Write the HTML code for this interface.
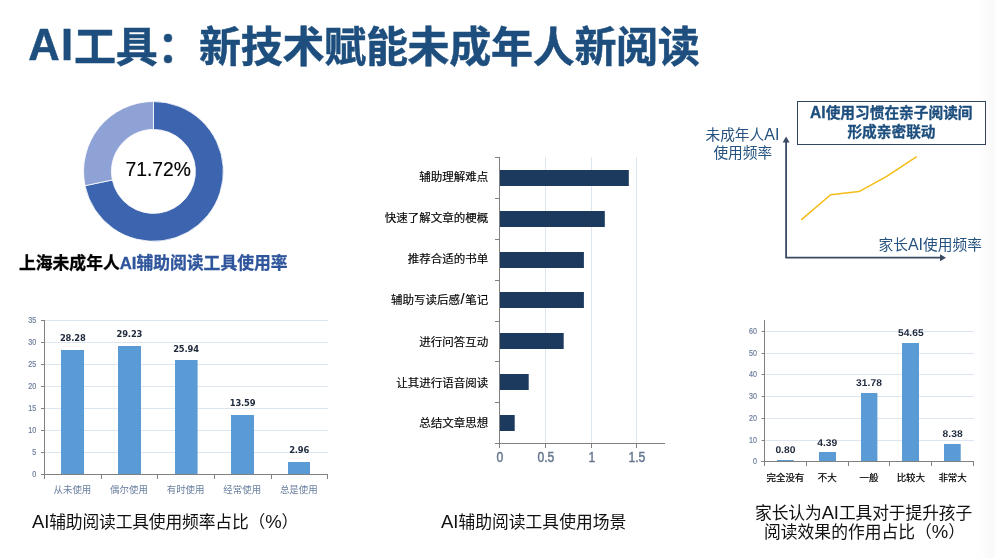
<!DOCTYPE html>
<html lang="zh-CN">
<head>
<meta charset="utf-8">
<title>AI工具：新技术赋能未成年人新阅读</title>
<style>
html,body{margin:0;padding:0;background:#fff;}
body{width:995px;height:558px;overflow:hidden;position:relative;font-family:"Liberation Sans", "Noto Sans CJK SC", sans-serif;}
.slide{position:absolute;left:0;top:0;width:995px;height:558px;background:#fff;overflow:hidden;}
.edge{position:absolute;right:0;top:0;width:20px;height:558px;background:linear-gradient(to right,#ffffff 0%,#fdfdfd 45%,#fbfbfb 55%,#fafafa 100%);}
.t{position:absolute;white-space:nowrap;margin:0;line-height:1;}
h1.t{left:0;top:0;width:995px;height:80px;font-size:42px;font-weight:bold;color:#1D4E7D;-webkit-text-stroke:0.5px #1D4E7D;}
h1.t span{position:absolute;white-space:nowrap;line-height:1;}
h1.t .la{left:28.3px;top:24px;font-size:43.5px;letter-spacing:1.2px;}
h1.t .cj{left:74px;top:27.2px;font-size:42px;letter-spacing:-0.3px;}
.la2{font-size:1.1em;line-height:0;}
.sub{-webkit-text-stroke:0.3px currentColor;left:19px;top:256.3px;font-size:16.8px;font-weight:bold;color:#000;}
.sub span{color:#2F559C;}
.cap{font-size:16.8px;color:#111;font-weight:normal;}
.c1{left:32px;top:515px;letter-spacing:-0.16px;}
.c2{left:441px;top:515px;}
.c3{left:755px;top:505.8px;letter-spacing:-0.12px;}
.c4{left:764px;top:525.2px;}
svg{position:absolute;left:0;top:0;}
svg text{font-family:"Liberation Sans", "Noto Sans CJK SC", sans-serif;}
</style>
</head>
<body>
<div class="slide">
<div class="edge"></div>
<h1 class="t"><span class="la">AI</span><span class="cj">工具：新技术赋能未成年人新阅读</span></h1>
<svg width="995" height="558" viewBox="0 0 995 558" role="img" aria-label="图表">
<g id="donut">
<path d="M153.45 101.5 A69.9 69.9 0 1 1 85.03 185.7 L112.34 179.99 A42 42 0 1 0 153.45 129.4 Z" fill="#3C64AF" stroke="#fff" stroke-width="0.8"/>
<path d="M85.03 185.7 A69.9 69.9 0 0 1 153.45 101.5 L153.45 129.4 A42 42 0 0 0 112.34 179.99 Z" fill="#8FA2D5" stroke="#fff" stroke-width="0.8"/>
<text x="158.2" y="176.2" text-anchor="middle" font-size="19.3" fill="#000" stroke="#000" stroke-width="0.15">71.72%</text>
</g>
<g id="chart-left">
<rect x="45" y="452" width="283" height="1" fill="#DCE5F0"/>
<rect x="45" y="430" width="283" height="1" fill="#DCE5F0"/>
<rect x="45" y="408" width="283" height="1" fill="#DCE5F0"/>
<rect x="45" y="386" width="283" height="1" fill="#DCE5F0"/>
<rect x="45" y="364" width="283" height="1" fill="#DCE5F0"/>
<rect x="45" y="342" width="283" height="1" fill="#DCE5F0"/>
<rect x="45" y="320" width="283" height="1" fill="#DCE5F0"/>
<rect x="61" y="350" width="23" height="124" fill="#5B9BD5"/>
<text x="72.8" y="341" text-anchor="middle" font-size="8.4" font-weight="bold" fill="#1F2A3C" letter-spacing="-0.15" style="font-family:'DejaVu Sans',sans-serif">28.28</text>
<text x="72.4" y="493.4" text-anchor="middle" font-size="9.45" fill="#6A7F9F">从未使用</text>
<rect x="118" y="346" width="23" height="128" fill="#5B9BD5"/>
<text x="129.4" y="337" text-anchor="middle" font-size="8.4" font-weight="bold" fill="#1F2A3C" letter-spacing="-0.15" style="font-family:'DejaVu Sans',sans-serif">29.23</text>
<text x="129" y="493.4" text-anchor="middle" font-size="9.45" fill="#6A7F9F">偶尔使用</text>
<rect x="175" y="360" width="22.6" height="114" fill="#5B9BD5"/>
<text x="186" y="352.4" text-anchor="middle" font-size="8.4" font-weight="bold" fill="#1F2A3C" letter-spacing="-0.15" style="font-family:'DejaVu Sans',sans-serif">25.94</text>
<text x="185.6" y="493.4" text-anchor="middle" font-size="9.45" fill="#6A7F9F">有时使用</text>
<rect x="231" y="415" width="23" height="59" fill="#5B9BD5"/>
<text x="242.6" y="406" text-anchor="middle" font-size="8.4" font-weight="bold" fill="#1F2A3C" letter-spacing="-0.15" style="font-family:'DejaVu Sans',sans-serif">13.59</text>
<text x="242.2" y="493.4" text-anchor="middle" font-size="9.45" fill="#6A7F9F">经常使用</text>
<rect x="288" y="462" width="22" height="12" fill="#5B9BD5"/>
<text x="299.2" y="453" text-anchor="middle" font-size="8.4" font-weight="bold" fill="#1F2A3C" letter-spacing="-0.15" style="font-family:'DejaVu Sans',sans-serif">2.96</text>
<text x="298.8" y="493.4" text-anchor="middle" font-size="9.45" fill="#6A7F9F">总是使用</text>
<rect x="44" y="320" width="1" height="159" fill="#808080"/>
<rect x="41" y="474" width="287" height="1" fill="#808080"/>
<rect x="41" y="474" width="3" height="1" fill="#808080"/>
<text transform="translate(36.3 477.1) scale(0.83 1)" text-anchor="end" font-size="8.6" fill="#6C7D9C" stroke="#6C7D9C" stroke-width="0.2">0</text>
<rect x="41" y="452" width="3" height="1" fill="#808080"/>
<text transform="translate(36.3 455.1) scale(0.83 1)" text-anchor="end" font-size="8.6" fill="#6C7D9C" stroke="#6C7D9C" stroke-width="0.2">5</text>
<rect x="41" y="430" width="3" height="1" fill="#808080"/>
<text transform="translate(36.3 433.1) scale(0.83 1)" text-anchor="end" font-size="8.6" fill="#6C7D9C" stroke="#6C7D9C" stroke-width="0.2">10</text>
<rect x="41" y="408" width="3" height="1" fill="#808080"/>
<text transform="translate(36.3 411.1) scale(0.83 1)" text-anchor="end" font-size="8.6" fill="#6C7D9C" stroke="#6C7D9C" stroke-width="0.2">15</text>
<rect x="41" y="386" width="3" height="1" fill="#808080"/>
<text transform="translate(36.3 389.1) scale(0.83 1)" text-anchor="end" font-size="8.6" fill="#6C7D9C" stroke="#6C7D9C" stroke-width="0.2">20</text>
<rect x="41" y="364" width="3" height="1" fill="#808080"/>
<text transform="translate(36.3 367.1) scale(0.83 1)" text-anchor="end" font-size="8.6" fill="#6C7D9C" stroke="#6C7D9C" stroke-width="0.2">25</text>
<rect x="41" y="342" width="3" height="1" fill="#808080"/>
<text transform="translate(36.3 345.1) scale(0.83 1)" text-anchor="end" font-size="8.6" fill="#6C7D9C" stroke="#6C7D9C" stroke-width="0.2">30</text>
<rect x="41" y="320" width="3" height="1" fill="#808080"/>
<text transform="translate(36.3 323.1) scale(0.83 1)" text-anchor="end" font-size="8.6" fill="#6C7D9C" stroke="#6C7D9C" stroke-width="0.2">35</text>
<rect x="44" y="474" width="1" height="5" fill="#808080"/>
<rect x="101" y="474" width="1" height="5" fill="#808080"/>
<rect x="157" y="474" width="1" height="5" fill="#808080"/>
<rect x="214" y="474" width="1" height="5" fill="#808080"/>
<rect x="271" y="474" width="1" height="5" fill="#808080"/>
<rect x="327" y="474" width="1" height="5" fill="#808080"/>
</g>
<g id="chart-mid">
<rect x="545" y="157" width="1" height="286" fill="#DCE5F0"/>
<rect x="591" y="157" width="1" height="286" fill="#DCE5F0"/>
<rect x="636" y="157" width="1" height="286" fill="#DCE5F0"/>
<rect x="500" y="170" width="128.8" height="16" fill="#1C3A5E"/>
<text x="488.2" y="181.24" text-anchor="end" font-size="11.5" fill="#000" stroke="#000" stroke-width="0.15">辅助理解难点</text>
<rect x="500" y="211" width="104.8" height="16" fill="#1C3A5E"/>
<text x="488.2" y="222.33" text-anchor="end" font-size="11.5" fill="#000" stroke="#000" stroke-width="0.15">快速了解文章的梗概</text>
<rect x="500" y="252" width="83.9" height="16" fill="#1C3A5E"/>
<text x="488.2" y="263.21" text-anchor="end" font-size="11.5" fill="#000" stroke="#000" stroke-width="0.15">推荐合适的书单</text>
<rect x="500" y="292" width="83.9" height="16" fill="#1C3A5E"/>
<text x="488.2" y="303.9" text-anchor="end" font-size="11.5" fill="#000" stroke="#000" stroke-width="0.15">辅助写读后感<tspan font-size="14.5" dx="0.6">/</tspan><tspan dx="0.6">笔记</tspan></text>
<rect x="500" y="333" width="63.7" height="16" fill="#1C3A5E"/>
<text x="488.2" y="345.69" text-anchor="end" font-size="11.5" fill="#000" stroke="#000" stroke-width="0.15">进行问答互动</text>
<rect x="500" y="374" width="28.7" height="16" fill="#1C3A5E"/>
<text x="488.2" y="386.57" text-anchor="end" font-size="11.5" fill="#000" stroke="#000" stroke-width="0.15">让其进行语音阅读</text>
<rect x="500" y="415" width="14.7" height="16" fill="#1C3A5E"/>
<text x="488.2" y="426.56" text-anchor="end" font-size="11.5" fill="#000" stroke="#000" stroke-width="0.15">总结文章思想</text>
<rect x="499" y="157" width="1" height="287" fill="#808080"/>
<rect x="495" y="443" width="170" height="1" fill="#808080"/>
<rect x="495" y="157" width="4" height="1" fill="#808080"/>
<rect x="495" y="198" width="4" height="1" fill="#808080"/>
<rect x="495" y="239" width="4" height="1" fill="#808080"/>
<rect x="495" y="280" width="4" height="1" fill="#808080"/>
<rect x="495" y="321" width="4" height="1" fill="#808080"/>
<rect x="495" y="361" width="4" height="1" fill="#808080"/>
<rect x="495" y="402" width="4" height="1" fill="#808080"/>
<rect x="495" y="443" width="4" height="1" fill="#808080"/>
<rect x="499" y="444" width="1" height="4" fill="#808080"/>
<text transform="translate(499.9 462.4) scale(0.79 1)" text-anchor="middle" font-size="15.4" fill="#63758F" stroke="#63758F" stroke-width="0.45">0</text>
<rect x="545" y="444" width="1" height="4" fill="#808080"/>
<text transform="translate(545.9 462.4) scale(0.79 1)" text-anchor="middle" font-size="15.4" fill="#63758F" stroke="#63758F" stroke-width="0.45">0.5</text>
<rect x="591" y="444" width="1" height="4" fill="#808080"/>
<text transform="translate(591.9 462.4) scale(0.79 1)" text-anchor="middle" font-size="15.4" fill="#63758F" stroke="#63758F" stroke-width="0.45">1</text>
<rect x="636" y="444" width="1" height="4" fill="#808080"/>
<text transform="translate(636.9 462.4) scale(0.79 1)" text-anchor="middle" font-size="15.4" fill="#63758F" stroke="#63758F" stroke-width="0.45">1.5</text>
</g>
<g id="chart-line">
<rect x="797.5" y="101.5" width="188" height="43" fill="#fff" stroke="#33445F" stroke-width="1"/>
<text x="891.3" y="118.2" text-anchor="middle" font-size="14.7" font-weight="bold" fill="#1D4E7D" stroke="#1D4E7D" stroke-width="0.3"><tspan font-size="15.6">AI</tspan>使用习惯在亲子阅读间</text>
<text x="891.5" y="136.7" text-anchor="middle" font-size="14.7" font-weight="bold" fill="#1D4E7D" stroke="#1D4E7D" stroke-width="0.3">形成亲密联动</text>
<path d="M786.1 141 L786.1 257.7 L941 257.7" fill="none" stroke="#3B4A63" stroke-width="1.8"/>
<path d="M782.6 142.5 L786.1 136.5 L789.6 142.5 Z" fill="#3B4A63"/>
<path d="M940 254.2 L946 257.7 L940 261.2 Z" fill="#3B4A63"/>
<polyline points="801.2,219.9 830.6,194.8 859,191.6 886.7,176.4 916.7,156.7" fill="none" stroke="#F4BC14" stroke-width="1.5" stroke-linejoin="round"/>
<text x="742.4" y="140.4" text-anchor="middle" font-size="14.7" fill="#25527F">未成年人<tspan font-size="16">AI</tspan></text>
<text x="742.8" y="158.3" text-anchor="middle" font-size="14.7" fill="#25527F">使用频率</text>
<text x="930.2" y="250" text-anchor="middle" font-size="14.7" fill="#25527F">家长<tspan font-size="16">AI</tspan>使用频率</text>
</g>
<g id="chart-right">
<rect x="765" y="440" width="209" height="1" fill="#DCE5F0"/>
<rect x="765" y="418" width="209" height="1" fill="#DCE5F0"/>
<rect x="765" y="396" width="209" height="1" fill="#DCE5F0"/>
<rect x="765" y="374" width="209" height="1" fill="#DCE5F0"/>
<rect x="765" y="353" width="209" height="1" fill="#DCE5F0"/>
<rect x="765" y="331" width="209" height="1" fill="#DCE5F0"/>
<rect x="777" y="460" width="16.6" height="1" fill="#5B9BD5"/>
<text transform="translate(785.4 452.96) scale(1.05 1)" text-anchor="middle" font-size="9.8" font-weight="bold" fill="#1F2A3C" text-rendering="geometricPrecision">0.80</text>
<text x="785.4" y="481.1" text-anchor="middle" font-size="9.45" fill="#000" stroke="#000" stroke-width="0.22">完全没有</text>
<rect x="819" y="452" width="17" height="9" fill="#5B9BD5"/>
<text transform="translate(827.2 445.65) scale(1.05 1)" text-anchor="middle" font-size="9.8" font-weight="bold" fill="#1F2A3C" text-rendering="geometricPrecision">4.39</text>
<text x="827.2" y="481.1" text-anchor="middle" font-size="9.45" fill="#000" stroke="#000" stroke-width="0.22">不大</text>
<rect x="861" y="393" width="16.4" height="68" fill="#5B9BD5"/>
<text transform="translate(869 385.68) scale(1.05 1)" text-anchor="middle" font-size="9.8" font-weight="bold" fill="#1F2A3C" text-rendering="geometricPrecision">31.78</text>
<text x="869" y="481.1" text-anchor="middle" font-size="9.45" fill="#000" stroke="#000" stroke-width="0.22">一般</text>
<rect x="902" y="343" width="17" height="118" fill="#5B9BD5"/>
<text transform="translate(910.8 335.94) scale(1.05 1)" text-anchor="middle" font-size="9.8" font-weight="bold" fill="#1F2A3C" text-rendering="geometricPrecision">54.65</text>
<text x="910.8" y="481.1" text-anchor="middle" font-size="9.45" fill="#000" stroke="#000" stroke-width="0.22">比较大</text>
<rect x="944" y="444" width="16.7" height="17" fill="#5B9BD5"/>
<text transform="translate(952.6 437.17) scale(1.05 1)" text-anchor="middle" font-size="9.8" font-weight="bold" fill="#1F2A3C" text-rendering="geometricPrecision">8.38</text>
<text x="952.6" y="481.1" text-anchor="middle" font-size="9.45" fill="#000" stroke="#000" stroke-width="0.22">非常大</text>
<rect x="764" y="320" width="1" height="146" fill="#808080"/>
<rect x="761.6" y="461" width="212.4" height="1" fill="#808080"/>
<rect x="761.6" y="461" width="2.4" height="1" fill="#808080"/>
<text transform="translate(757 464.1) scale(0.83 1)" text-anchor="end" font-size="8.6" fill="#6C7D9C" stroke="#6C7D9C" stroke-width="0.2">0</text>
<rect x="761.6" y="440" width="2.4" height="1" fill="#808080"/>
<text transform="translate(757 443.1) scale(0.83 1)" text-anchor="end" font-size="8.6" fill="#6C7D9C" stroke="#6C7D9C" stroke-width="0.2">10</text>
<rect x="761.6" y="418" width="2.4" height="1" fill="#808080"/>
<text transform="translate(757 421.1) scale(0.83 1)" text-anchor="end" font-size="8.6" fill="#6C7D9C" stroke="#6C7D9C" stroke-width="0.2">20</text>
<rect x="761.6" y="396" width="2.4" height="1" fill="#808080"/>
<text transform="translate(757 399.1) scale(0.83 1)" text-anchor="end" font-size="8.6" fill="#6C7D9C" stroke="#6C7D9C" stroke-width="0.2">30</text>
<rect x="761.6" y="374" width="2.4" height="1" fill="#808080"/>
<text transform="translate(757 377.1) scale(0.83 1)" text-anchor="end" font-size="8.6" fill="#6C7D9C" stroke="#6C7D9C" stroke-width="0.2">40</text>
<rect x="761.6" y="353" width="2.4" height="1" fill="#808080"/>
<text transform="translate(757 356.1) scale(0.83 1)" text-anchor="end" font-size="8.6" fill="#6C7D9C" stroke="#6C7D9C" stroke-width="0.2">50</text>
<rect x="761.6" y="331" width="2.4" height="1" fill="#808080"/>
<text transform="translate(757 334.1) scale(0.83 1)" text-anchor="end" font-size="8.6" fill="#6C7D9C" stroke="#6C7D9C" stroke-width="0.2">60</text>
<rect x="764" y="461" width="1" height="5" fill="#808080"/>
<rect x="806" y="461" width="1" height="5" fill="#808080"/>
<rect x="848" y="461" width="1" height="5" fill="#808080"/>
<rect x="889" y="461" width="1" height="5" fill="#808080"/>
<rect x="931" y="461" width="1" height="5" fill="#808080"/>
<rect x="973" y="461" width="1" height="5" fill="#808080"/>
</g>
</svg>
<p class="t sub">上海未成年人<span>AI辅助阅读工具使用率</span></p>
<p class="t cap c1"><span class="la2">AI</span>辅助阅读工具使用频率占比（<span class="la2">%</span>）</p>
<p class="t cap c2"><span class="la2">AI</span>辅助阅读工具使用场景</p>
<p class="t cap c3">家长认为<span class="la2">AI</span>工具对于提升孩子</p>
<p class="t cap c4">阅读效果的作用占比（<span class="la2">%</span>）</p>
</div>
</body>
</html>
